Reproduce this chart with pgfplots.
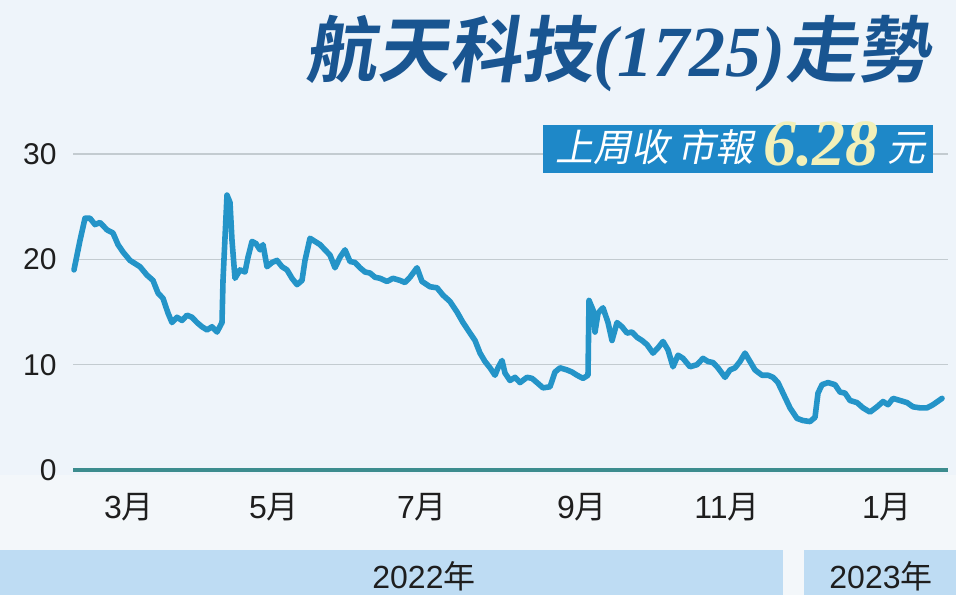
\documentclass[border=0pt]{standalone}
\usepackage{pgfplots}
\pgfplotsset{compat=1.18}
\usepackage{fontspec}
\setmainfont{Liberation Sans}
\newfontfamily\cjk{Noto Sans CJK TC}
\newfontfamily\cjkit{Noto Sans CJK TC}[FakeSlant=0.2]
\newfontfamily\cjktitle{Noto Sans CJK TC Bold}[FakeSlant=0.15]
\newfontfamily\tserif{Liberation Serif}
\definecolor{bg}{RGB}{238,244,250}
\definecolor{bglow}{RGB}{243,247,250}
\definecolor{linec}{RGB}{36,148,200}
\definecolor{gridc}{RGB}{195,203,208}
\definecolor{basec}{RGB}{60,140,142}
\definecolor{badge}{RGB}{30,136,200}
\definecolor{titlec}{RGB}{25,85,145}
\definecolor{yearbar}{RGB}{190,220,243}
\definecolor{price}{RGB}{242,240,185}
\definecolor{txt}{RGB}{30,30,30}
\begin{document}
\begin{tikzpicture}
\fill[bg] (0pt,0pt) rectangle (478pt,-297.5pt);
\fill[bglow] (0pt,-237.5pt) rectangle (478pt,-297.5pt);
\begin{axis}[
  at={(36.5pt,-235pt)}, anchor=south west,
  scale only axis, width=437.5pt, height=158pt,
  xmin=73, xmax=948, ymin=0, ymax=30,
  axis line style={draw=none},
  ytick={0,10,20,30},
  ymajorgrids, grid style={gridc, line width=0.7pt},
  major tick length=0pt,
  xtick={129,274,422,582,727,887},
  xticklabels={3{\cjk 月},5{\cjk 月},7{\cjk 月},9{\cjk 月},11{\cjk 月},1{\cjk 月}},
  /pgf/number format/assume math mode=true,
  yticklabel style={anchor=east, inner sep=0pt, xshift=-8pt, font=\fontsize{15}{15}\selectfont, text=txt},
  xticklabel style={anchor=base, inner sep=0pt, yshift=-24pt, font=\fontsize{16}{16}\selectfont, text=txt},
  clip=false,
]
\addplot[linec, line width=2.8pt, line join=round, line cap=round] coordinates {
(74,19.0) (80,21.8) (85,23.9) (90,23.9) (95,23.3) (100,23.5) (107,22.8) (113,22.5)
(118,21.4) (123,20.7) (130,19.9) (140,19.3) (147,18.5) (153,18.0) (158,16.8) (163,16.3)
(168,14.9) (172,14.0) (177,14.5) (182,14.2) (187,14.7) (192,14.5) (197,14.0) (202,13.6)
(207,13.3) (212,13.6) (217,13.1) (222,14.0) (223,18.0) (227,26.1) (230,25.4) (232,21.8)
(235,18.2) (240,19.0) (245,18.8) (248,20.2) (252,21.7) (256,21.5) (260,20.9) (263,21.4)
(267,19.3) (272,19.7) (277,19.9) (282,19.3) (287,19.0) (292,18.2) (297,17.6) (302,18.0)
(305,19.9) (310,22.0) (315,21.7) (320,21.4) (325,20.9) (330,20.4) (335,19.2) (340,20.2)
(345,20.9) (350,19.8) (355,19.7) (360,19.2) (365,18.8) (370,18.7) (375,18.3) (380,18.2)
(387,17.9) (393,18.2) (400,18.0) (405,17.8) (410,18.3) (417,19.2) (422,17.9) (430,17.4)
(437,17.3) (443,16.6) (450,16.0) (457,15.0) (463,14.0) (470,13.0) (475,12.3) (480,11.1)
(485,10.3) (490,9.7) (495,9.0) (498,9.7) (502,10.4) (505,9.2) (510,8.5) (515,8.8)
(520,8.3) (527,8.8) (532,8.7) (537,8.3) (543,7.8) (550,7.9) (555,9.3) (560,9.7)
(567,9.5) (572,9.3) (577,9.0) (583,8.7) (588,9.0) (589,16.1) (593,15.2) (595,13.1)
(598,14.9) (603,15.4) (608,14.0) (612,12.3) (617,14.0) (622,13.6) (627,13.0) (632,13.1)
(637,12.6) (642,12.3) (647,11.9) (653,11.1) (658,11.6) (663,12.2) (668,11.4) (673,9.8)
(678,10.9) (683,10.6) (690,9.8) (697,10.0) (703,10.6) (708,10.3) (713,10.2) (718,9.7)
(725,8.8) (730,9.5) (735,9.7) (740,10.3) (745,11.1) (750,10.3) (755,9.5) (762,9.0)
(768,9.0) (773,8.8) (778,8.3) (785,6.9) (790,5.9) (797,4.9) (803,4.7) (810,4.6)
(815,5.0) (818,7.3) (822,8.1) (828,8.3) (835,8.1) (840,7.4) (845,7.3) (850,6.6)
(857,6.4) (863,5.9) (870,5.5) (877,6.0) (883,6.5) (888,6.2) (893,6.8) (900,6.6)
(907,6.4) (913,6.0) (920,5.9) (927,5.9) (933,6.2) (942,6.8)
};
\draw[basec, line width=2pt] (rel axis cs:0,0) -- (rel axis cs:1,0);
\end{axis}
% title
\node[anchor=base east, inner sep=0pt, text=titlec] at (465pt,-38pt)
  {\fontsize{36}{36}\selectfont\cjktitle 航天科技{\tserif\bfseries\itshape (1725)}走勢};
% badge
\fill[badge] (271.5pt,-62.5pt) rectangle (466.5pt,-86.5pt);
\node[anchor=base west, inner sep=0pt, text=white] at (277.5pt,-80.5pt)
  {\fontsize{19}{19}\selectfont\cjkit 上周收 市報};
\node[anchor=base west, inner sep=0pt, text=price] at (381.5pt,-82.5pt)
  {\fontsize{33}{33}\selectfont\tserif\bfseries\itshape 6.28};
\node[anchor=base west, inner sep=0pt, text=white] at (443.5pt,-80.5pt)
  {\fontsize{19}{19}\selectfont\cjkit 元};
% year bars
\fill[yearbar] (0pt,-275pt) rectangle (391.5pt,-297.5pt);
\fill[yearbar] (402pt,-275pt) rectangle (478pt,-297.5pt);
\node[anchor=base, inner sep=0pt, text=txt] at (212pt,-294pt)
  {\fontsize{16}{16}\selectfont 2022{\cjk 年}};
\node[anchor=base, inner sep=0pt, text=txt] at (440.5pt,-294pt)
  {\fontsize{16}{16}\selectfont 2023{\cjk 年}};
\end{tikzpicture}
\end{document}
